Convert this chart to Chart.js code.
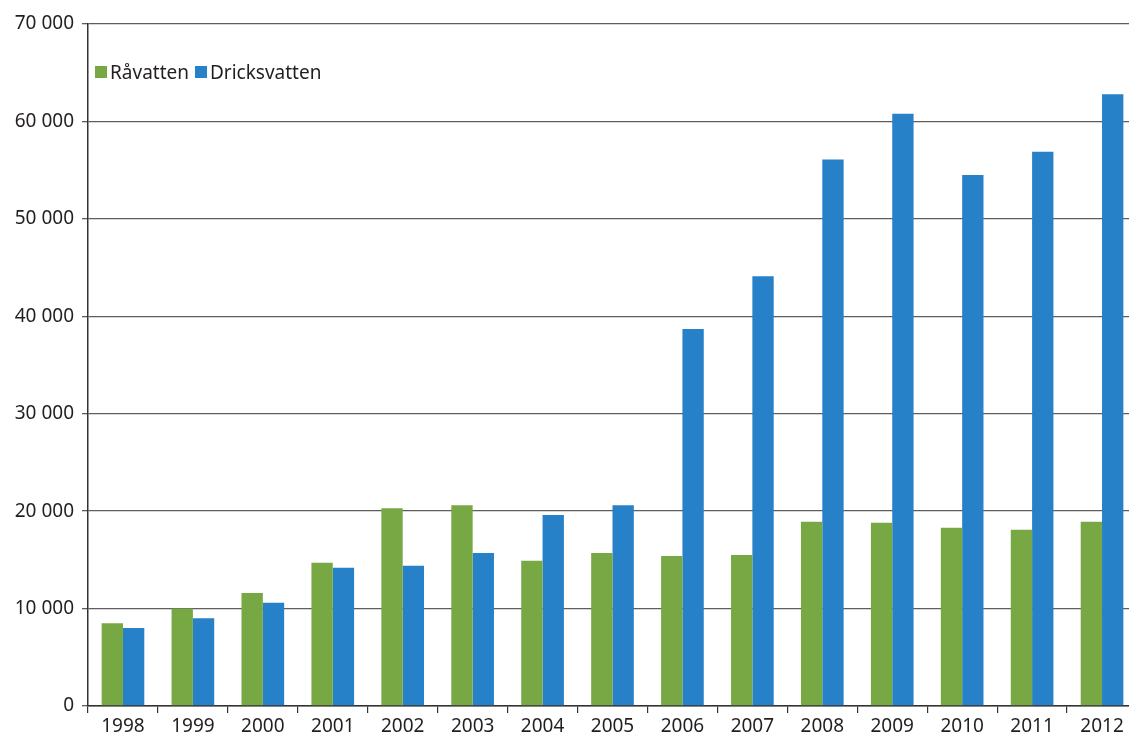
<!DOCTYPE html>
<html lang="sv">
<head>
<meta charset="utf-8">
<title>Råvatten och dricksvatten 1998–2012</title>
<script src="https://cdn.jsdelivr.net/npm/chart.js@4/dist/chart.umd.min.js"></script>
<style>
    html, body { margin: 0; padding: 0; background: #fff; overflow: hidden; }
    #wrap { position: relative; width: 1137px; height: 736px; }
    #legend {
        position: absolute; left: 95px; top: 59px;
        font-family: 'Noto Sans', sans-serif; font-size: 19px; color: #231f20;
        display: flex; align-items: center;
    }
    #legend span.box { display: inline-block; width: 12px; height: 12px; margin-right: 3px; }
    #legend span.item { display: inline-flex; align-items: center; margin-right: 6px; }
</style>
</head>
<body>
<div id="wrap">
    <canvas id="chart" width="1137" height="736"></canvas>
    <div id="legend"></div>
</div>
<script>
// chart data
const years = ['1998', '1999', '2000', '2001', '2002', '2003', '2004', '2005',
               '2006', '2007', '2008', '2009', '2010', '2011', '2012'];
const ravatten = [8500, 10000, 11600, 14700, 20300, 20600, 14900, 15700,
                  15400, 15500, 18900, 18800, 18300, 18100, 18900];
const dricksvatten = [8000, 9000, 10600, 14200, 14400, 15700, 19600, 20600,
                      38700, 44100, 56100, 60800, 54500, 56900, 62800];
const yTicks = [0, 10000, 20000, 30000, 40000, 50000, 60000, 70000];

const green = '#78a843';
const blue = '#2781c8';
const textColor = '#231f20';

// format 70000 -> "70 000"
function fmt(v) {
    return String(v).replace(/\B(?=(\d{3})+(?!\d))/g, ' ');
}

const ctx = document.getElementById('chart').getContext('2d');
const chart = new Chart(ctx, {
    type: 'bar',
    data: {
        labels: years,
        datasets: [
            { label: 'Råvatten', data: ravatten, backgroundColor: green },
            { label: 'Dricksvatten', data: dricksvatten, backgroundColor: blue }
        ]
    },
    options: {
        responsive: false,
        animation: false,
        layout: { padding: { top: 24, right: 0, bottom: 0, left: 0 } },
        datasets: { bar: { categoryPercentage: 0.61, barPercentage: 1 } },
        plugins: { legend: { display: false }, tooltip: { enabled: false } },
        scales: {
            x: {
                grid: { display: true, drawOnChartArea: false, offset: true,
                        color: '#333', lineWidth: 1.2, tickLength: 7 },
                border: { color: '#333', width: 1.5 },
                ticks: { color: textColor, font: { family: "'Noto Sans', sans-serif", size: 19 },
                         padding: 2, maxRotation: 0 },
                afterFit: (s) => { s.height = 30; }
            },
            y: {
                min: 0,
                max: 70000,
                afterBuildTicks: (s) => { s.ticks = yTicks.map(v => ({ value: v })); },
                grid: { color: '#5e5e5e', lineWidth: 1.3, tickLength: 6 },
                border: { color: '#333', width: 1.5 },
                ticks: { color: textColor, font: { family: "'Noto Sans', sans-serif", size: 19 },
                         padding: 8, callback: (v) => fmt(v) },
                afterFit: (s) => { s.width = 88; }
            }
        }
    }
});

// legend inside plot area
const legendEl = document.getElementById('legend');
chart.data.datasets.forEach(ds => {
    const item = document.createElement('span');
    item.className = 'item';
    item.innerHTML = '<span class="box" style="background:' + ds.backgroundColor + '"></span>' + ds.label;
    legendEl.appendChild(item);
});
</script>
</body>
</html>
